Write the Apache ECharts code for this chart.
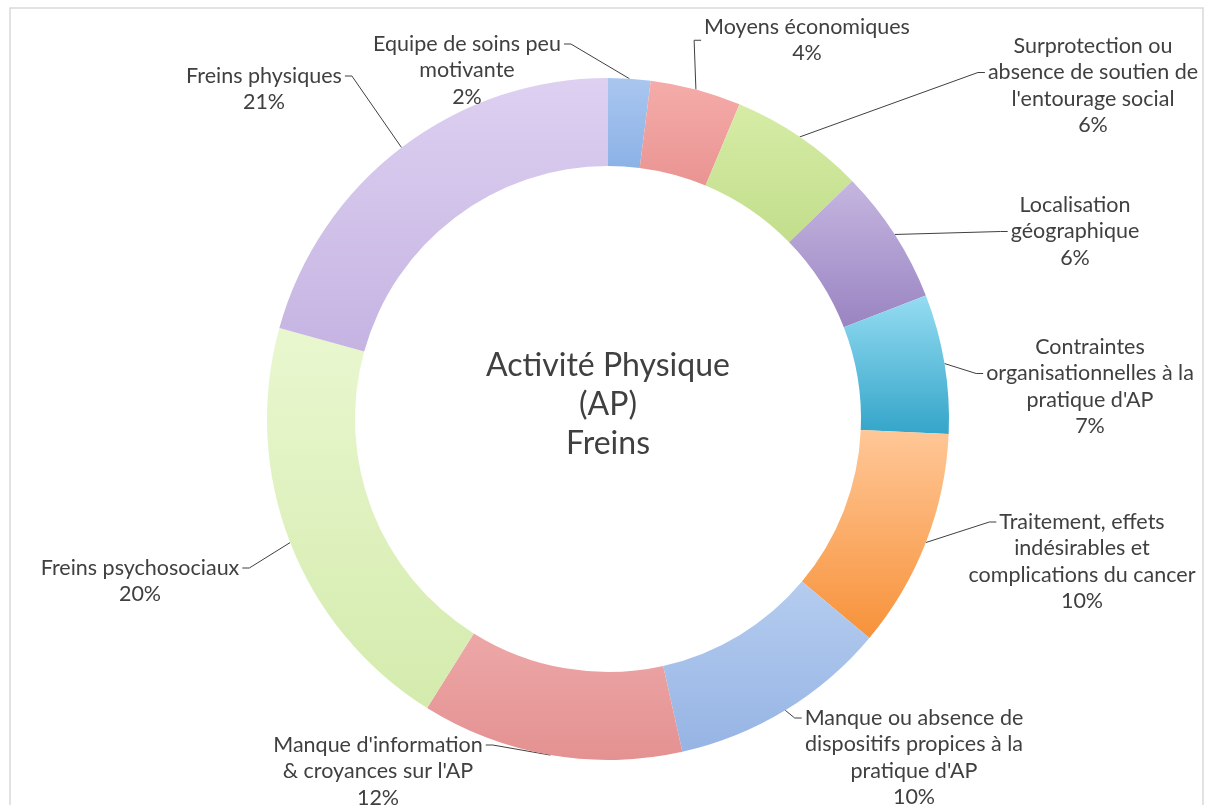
<!DOCTYPE html>
<html>
<head>
<meta charset="utf-8">
<script src="https://cdn.jsdelivr.net/npm/echarts@6/dist/echarts.min.js"></script>
<style>
  html, body { margin: 0; padding: 0; background: #fff; }
  #chart { width: 1211px; height: 805px; }
</style>
</head>
<body>
<div id="chart"></div>
<script>
// categories (clockwise from 12 o'clock)
var categories = [
  'Equipe de soins peu\nmotivante',
  'Moyens économiques',
  'Surprotection ou\nabsence de soutien de\nl\'entourage social',
  'Localisation\ngéographique',
  'Contraintes\norganisationnelles à la\npratique d\'AP',
  'Traitement, effets\nindésirables et\ncomplications du cancer',
  'Manque ou absence de\ndispositifs propices à la\npratique d\'AP',
  'Manque d\'information\n& croyances sur l\'AP',
  'Freins psychosociaux',
  'Freins physiques'
];
// share of each frein (%)
var values = [2.0, 4.3, 6.4, 6.4, 6.6, 10.4, 10.4, 12.4, 20.4, 20.7];

// gradient colours, top -> bottom
var topColors = ['#a9c6ef', '#f5aca9', '#d6eca6', '#c5b6e0', '#95dcf2', '#ffc797', '#b4ccef', '#eda7a7', '#e9f7cf', '#ddd0f1'];
var bottomColors = ['#8cb2e6', '#e99492', '#c2de8b', '#9a84c2', '#34a5c9', '#f7923a', '#96b4e4', '#e49191', '#d4ebad', '#c5b4e2'];

// label layout: center x, first line center y, line used for the leader line
var labelX = [467, 807, 1093, 1075, 1090, 1082, 914, 378, 140, 264];
var labelY = [44, 27, 46, 205, 347, 522, 718, 745, 568, 76];
var attachLine = [0, 0.5, 1, 1, 1, 0, 0, 0, 0, 0];

var CX = 608, CY = 419, R_IN = 253, R_OUT = 341;
var FONT_SIZE = 21.5, LINE_H = 26.5, FONT = 'Lato';

var measureCtx = document.createElement('canvas').getContext('2d');
measureCtx.font = FONT_SIZE + 'px ' + FONT;

function arcMid(i) {
  var total = values.reduce(function (a, b) { return a + b; }, 0);
  var before = 0;
  for (var k = 0; k < i; k++) before += values[k];
  var ang = (before + values[i] / 2) / total * 2 * Math.PI;
  return [CX + R_OUT * Math.sin(ang), CY - R_OUT * Math.cos(ang)];
}

var seriesData = categories.map(function (name, i) {
  return {
    name: name,
    value: values[i],
    itemStyle: {
      color: new echarts.graphic.LinearGradient(0, 0, 0, 1, [
        { offset: 0, color: topColors[i] },
        { offset: 1, color: bottomColors[i] }
      ])
    }
  };
});

var myChart = echarts.init(document.getElementById('chart'));
myChart.setOption({
  animation: false,
  backgroundColor: '#ffffff',
  graphic: [
    {
      type: 'rect',
      shape: { x: 10, y: 8, width: 1193, height: 820 },
      style: { fill: 'none', stroke: '#d9d9d9', lineWidth: 1.5 },
      z: -10
    },
    {
      type: 'text',
      x: CX, y: 405,
      style: {
        text: 'Activité Physique\n(AP)\nFreins',
        font: '32px Lato',
        fill: '#404040',
        align: 'center',
        verticalAlign: 'middle',
        lineHeight: 39
      }
    }
  ],
  series: [{
    type: 'pie',
    center: [CX, CY],
    radius: [R_IN, R_OUT],
    startAngle: 90,
    clockwise: true,
    avoidLabelOverlap: false,
    silent: true,
    emphasis: { disabled: true },
    label: {
      show: true,
      position: 'outside',
      color: '#404040',
      fontFamily: FONT,
      fontSize: FONT_SIZE,
      lineHeight: LINE_H,
      formatter: function (p) {
        return p.name + '\n' + Math.round(p.percent) + '%';
      }
    },
    labelLine: {
      show: true,
      lineStyle: { color: '#404040', width: 1 }
    },
    labelLayout: function (params) {
      var i = params.dataIndex;
      var lines = categories[i].split('\n');
      var li = Math.floor(attachLine[i]);
      var w = measureCtx.measureText(lines[li]).width;
      var onRight = labelX[i] > CX;
      var ax = onRight ? labelX[i] - w / 2 - 3 : labelX[i] + w / 2 + 3;
      var ay = labelY[i] + attachLine[i] * LINE_H;
      var sx = onRight ? ax - 7 : ax + 7;
      var start = arcMid(i);
      return {
        x: labelX[i],
        y: labelY[i] - LINE_H / 2,
        align: 'center',
        verticalAlign: 'top',
        labelLinePoints: [start, [sx, ay], [ax, ay]]
      };
    },
    data: seriesData
  }]
});
</script>
</body>
</html>
